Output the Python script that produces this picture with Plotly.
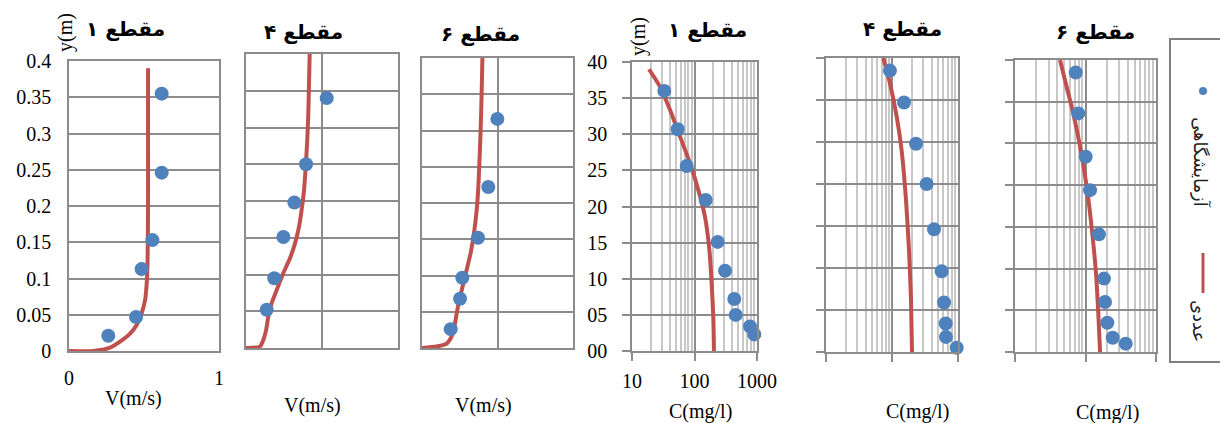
import plotly.graph_objects as go

W, H = 1220, 423

# ---------------- data ----------------
titles = ["مقطع ۱", "مقطع ۴", "مقطع ۶", "مقطع ۱", "مقطع ۴", "مقطع ۶"]
legend_exp = "آزمایشگاهی"
legend_num = "عددی"

# Velocity profiles (V in m/s, y in m)
v1_exp_v = [0.618, 0.618, 0.556, 0.484, 0.447, 0.262]
v1_exp_y = [0.355, 0.246, 0.153, 0.113, 0.047, 0.021]
v1_num_v = [0.0, 0.162, 0.273, 0.34, 0.407, 0.451, 0.484, 0.507, 0.518, 0.524, 0.527, 0.527, 0.527]
v1_num_y = [0.0, 0.0, 0.0046, 0.0129, 0.024, 0.036, 0.052, 0.070, 0.093, 0.126, 0.2, 0.3, 0.39]

v4_exp_v = [0.531, 0.395, 0.318, 0.246, 0.186, 0.136]
v4_exp_y = [0.340, 0.250, 0.198, 0.151, 0.095, 0.052]
v4_num_v = [0.0, 0.092, 0.114, 0.132, 0.147, 0.169, 0.202, 0.246, 0.289, 0.322, 0.349, 0.366, 0.382, 0.393, 0.403, 0.410, 0.414, 0.419]
v4_num_y = [0.0, 0.002, 0.011, 0.024, 0.043, 0.061, 0.079, 0.102, 0.122, 0.142, 0.165, 0.188, 0.215, 0.247, 0.283, 0.319, 0.356, 0.40]

v6_exp_v = [0.499, 0.439, 0.371, 0.267, 0.252, 0.19]
v6_exp_y = [0.316, 0.222, 0.152, 0.097, 0.068, 0.026]
v6_num_v = [0.0, 0.097, 0.163, 0.196, 0.214, 0.23, 0.247, 0.269, 0.296, 0.322, 0.344, 0.362, 0.373, 0.38, 0.386, 0.391, 0.395, 0.40]
v6_num_y = [0.0, 0.002, 0.006, 0.016, 0.029, 0.048, 0.066, 0.085, 0.108, 0.131, 0.158, 0.19, 0.222, 0.255, 0.287, 0.319, 0.351, 0.40]

# Concentration profiles (C in mg/l, y in m)
c1_exp_c = [32.9, 53.8, 75, 151, 235, 308, 433, 456, 773, 905]
c1_exp_y = [36.0, 30.7, 25.6, 20.9, 15.1, 11.1, 7.2, 5.0, 3.4, 2.3]
c1_num_c = [18.7, 28, 40.5, 58.6, 84.7, 115, 147, 173, 188, 200, 205]
c1_num_y = [39.0, 36.6, 33.4, 29.7, 26.0, 22.3, 18.6, 14.0, 9.4, 4.7, 0.0]

c4_exp_c = [93, 152, 231, 335, 433, 566, 614, 651, 658, 955]
c4_exp_y = [33.5, 29.7, 24.8, 20.0, 14.6, 9.6, 5.9, 3.4, 1.8, 0.5]
c4_num_c = [74, 93, 118, 140, 163, 181, 194, 201]
c4_num_y = [35.0, 32.0, 28.0, 24.0, 18.1, 12.1, 6.2, 0.0]

c6_exp_c = [72.6, 79, 100.7, 116, 155, 183, 189, 204, 243, 372]
c6_exp_y = [33.5, 28.6, 23.4, 19.4, 14.1, 8.8, 6.0, 3.5, 1.7, 1.0]
c6_num_c = [43.5, 54, 67, 84, 104, 122, 141, 152, 161]
c6_num_y = [35.0, 31.8, 28.6, 24.6, 19.8, 15.0, 9.4, 4.6, 0.0]

v_ticks = [0, 0.05, 0.1, 0.15, 0.2, 0.25, 0.3, 0.35, 0.4]
v_ticktext = ["0", "0.05", "0.1", "0.15", "0.2", "0.25", "0.3", "0.35", "0.4"]
c_ticks = [0, 5, 10, 15, 20, 25, 30, 35, 40]
c_ticktext = ["00", "05", "10", "15", "20", "25", "30", "35", "40"]
log_major = [10, 100, 1000]
log_major_text = ["10", "100", "1000"]
log_minor = [20, 30, 40, 50, 60, 70, 80, 90, 200, 300, 400, 500, 600, 700, 800, 900]

# ---------------- styling ----------------
BLUE = "#4F81BD"
RED = "#C0504D"
GRID = "#8c8c8c"
MINOR = "#c8c8c8"
SERIF = "Liberation Serif, Times New Roman, serif"
ARAB = "DejaVu Sans, Noto Sans, sans-serif"

def fx(p):
    return p / W

def fy(p):
    return 1 - p / H

# pixel boxes: (left, right, top, bottom)
boxes = [
    (69, 219, 61, 351),
    (246, 398, 54, 348),
    (422, 573, 58, 348),
    (632, 757, 62, 351),
    (826, 958, 58, 352),
    (1015, 1156, 60, 352),
]

panels = [
    (v1_exp_v, v1_exp_y, v1_num_v, v1_num_y),
    (v4_exp_v, v4_exp_y, v4_num_v, v4_num_y),
    (v6_exp_v, v6_exp_y, v6_num_v, v6_num_y),
    (c1_exp_c, c1_exp_y, c1_num_c, c1_num_y),
    (c4_exp_c, c4_exp_y, c4_num_c, c4_num_y),
    (c6_exp_c, c6_exp_y, c6_num_c, c6_num_y),
]

fig = go.Figure()
layout = dict(
    width=W, height=H,
    margin=dict(l=0, r=0, t=0, b=0, autoexpand=False),
    paper_bgcolor="white", plot_bgcolor="white",
    showlegend=False,
    font=dict(family=SERIF, size=20, color="black"),
)

for i, (ex, ey, nx, ny) in enumerate(panels):
    k = i + 1
    xa = "x" if k == 1 else f"x{k}"
    ya = "y" if k == 1 else f"y{k}"
    fig.add_trace(go.Scatter(x=nx, y=ny, mode="lines", xaxis=xa, yaxis=ya,
                             line=dict(color=RED, width=4, shape="spline", smoothing=0.6),
                             cliponaxis=False))
    fig.add_trace(go.Scatter(x=ex, y=ey, mode="markers", xaxis=xa, yaxis=ya,
                             marker=dict(color=BLUE, size=14),
                             cliponaxis=False))
    l, r, t, b = boxes[i]
    xkey = "xaxis" if k == 1 else f"xaxis{k}"
    ykey = "yaxis" if k == 1 else f"yaxis{k}"
    common = dict(showline=True, mirror=True, linecolor=GRID, linewidth=1.5,
                  showgrid=True, gridcolor=GRID, gridwidth=1.5, zeroline=False,
                  automargin=False,
                  tickfont=dict(family=SERIF, size=20, color="black"))
    if i < 3:
        xd = dict(common, domain=[fx(l), fx(r)], anchor=ya, range=[0, 1],
                  tickvals=[0, 1] if i == 0 else [0, 0.5, 1],
                  ticktext=["0", "1"] if i == 0 else None,
                  showticklabels=(i == 0), ticks="", ticklabelstandoff=8)
        yd = dict(common, domain=[fy(b), fy(t)], anchor=xa, range=[0, 0.4],
                  tickvals=v_ticks, ticktext=v_ticktext,
                  showticklabels=(i == 0), ticks="", ticklabelstandoff=12)
    else:
        xd = dict(common, domain=[fx(l), fx(r)], anchor=ya, type="log", range=[1, 3],
                  tickvals=log_major, ticktext=log_major_text,
                  showticklabels=(i == 3), ticks="outside", ticklen=8,
                  tickcolor=GRID, tickwidth=1.5, ticklabelstandoff=3,
                  minor=dict(tickvals=log_minor, showgrid=True, gridcolor=MINOR,
                             gridwidth=1.5, ticks=""))
        ymax = 40 if i == 3 else 35
        yd = dict(common, domain=[fy(b), fy(t)], anchor=xa, range=[0, ymax],
                  tickvals=c_ticks[: (9 if i == 3 else 8)],
                  ticktext=c_ticktext[: (9 if i == 3 else 8)],
                  showticklabels=(i == 3), ticks="outside", ticklen=8,
                  tickcolor=GRID, tickwidth=1.5, ticklabelstandoff=11)
    layout[xkey] = xd
    layout[ykey] = yd

fig.update_layout(**layout)

# panel titles
title_pos = [(125, 29), (303, 32), (480, 34), (707, 30), (902, 29), (1095, 32)]
for txt, (px, py) in zip(titles, title_pos):
    fig.add_annotation(text="<b>" + txt + "</b>", x=fx(px), y=fy(py), xref="paper", yref="paper",
                       showarrow=False, font=dict(family=ARAB, size=20, color="black"),
                       xanchor="center", yanchor="middle")

# axis titles
xlab = [("V(m/s)", 133, 398), ("V(m/s)", 313, 405), ("V(m/s)", 483, 405),
        ("C(mg/l)", 700, 411), ("C(mg/l)", 917, 411), ("C(mg/l)", 1107, 412)]
for txt, px, py in xlab:
    fig.add_annotation(text=txt, x=fx(px), y=fy(py), xref="paper", yref="paper",
                       showarrow=False, font=dict(family=SERIF, size=20, color="black"),
                       xanchor="center", yanchor="middle")
for px, py in [(65, 33), (638, 37)]:
    fig.add_annotation(text="y(m)", x=fx(px), y=fy(py), xref="paper", yref="paper",
                       showarrow=False, textangle=-90,
                       font=dict(family=SERIF, size=20, color="black"),
                       xanchor="center", yanchor="middle")

# legend box (drawn manually because of rotated text)
fig.add_shape(type="rect", xref="paper", yref="paper",
              x0=fx(1170), x1=fx(1240), y0=fy(362), y1=fy(39),
              line=dict(color="#7f7f7f", width=2), fillcolor="white", layer="below")
fig.add_shape(type="circle", xref="paper", yref="paper",
              x0=fx(1199), x1=fx(1207), y0=fy(95), y1=fy(87),
              line=dict(width=0), fillcolor=BLUE)
fig.add_shape(type="line", xref="paper", yref="paper",
              x0=fx(1203), x1=fx(1203), y0=fy(293), y1=fy(253),
              line=dict(color=RED, width=3))
fig.add_annotation(text=legend_exp, x=fx(1201), y=fy(162), xref="paper", yref="paper",
                   showarrow=False, textangle=90,
                   font=dict(family=ARAB, size=18, color="#222"),
                   xanchor="center", yanchor="middle")
fig.add_annotation(text=legend_num, x=fx(1200), y=fy(321), xref="paper", yref="paper",
                   showarrow=False, textangle=90,
                   font=dict(family=ARAB, size=18, color="#222"),
                   xanchor="center", yanchor="middle")

fig.write_html("out.html", config={"displayModeBar": False},
               post_script="document.body.style.margin='0px';document.body.style.overflow='hidden';")
